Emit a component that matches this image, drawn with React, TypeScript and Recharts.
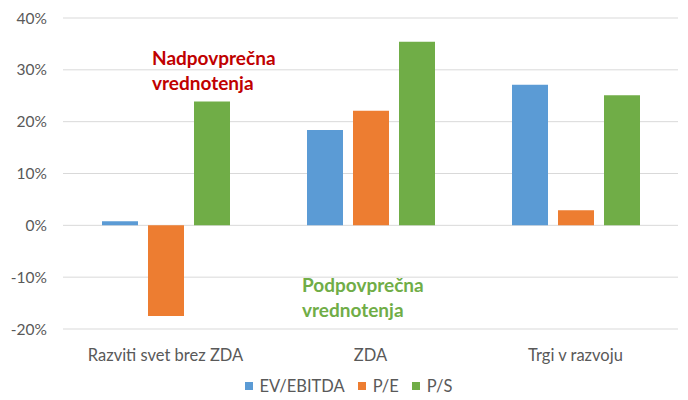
import React from 'react'
import {
  BarChart,
  Bar,
  XAxis,
  YAxis,
  CartesianGrid,
  Legend
} from 'recharts'

const categories = ['Razviti svet brez ZDA', 'ZDA', 'Trgi v razvoju']
const evEbitda = [0.8, 18.4, 27.1]
const pe = [-17.5, 22.1, 2.9]
const ps = [23.9, 35.4, 25.1]
const yTicks = [-20, -10, 0, 10, 20, 30, 40]

const data = categories.map((name, i) => ({
  name,
  ev: evEbitda[i],
  pe: pe[i],
  ps: ps[i]
}))

const FONT = 'Lato, "Open Sans", sans-serif'

function LegendBox(props: any) {
  const items = props.payload || []
  return (
    <div style={{ display: 'flex', justifyContent: 'center', alignItems: 'center', paddingTop: 6, paddingLeft: 32 }}>
      {items.map((it: any) => (
        <div key={it.value} style={{ display: 'flex', alignItems: 'center', marginRight: 13 }}>
          <span style={{ width: 8, height: 8, background: it.color, marginRight: 7, display: 'inline-block' }} />
          <span style={{ color: '#595959', fontSize: 16.5, fontFamily: FONT }}>{it.value}</span>
        </div>
      ))}
    </div>
  )
}

export default function App() {
  return (
    <div style={{ position: 'absolute', left: 0, top: 0, width: 688, height: 400, background: '#fff', fontFamily: FONT }}>
      <BarChart
        width={688}
        height={400}
        data={data}
        margin={{ top: 18, right: 10, left: 0, bottom: 0 }}
        barSize={36}
        barGap={10}
      >
        <CartesianGrid vertical={false} stroke="#d9d9d9" />
        <XAxis
          dataKey="name"
          axisLine={false}
          tickLine={false}
          height={41}
          tickMargin={14}
          tick={{ fill: '#595959', fontSize: 16.5, fontFamily: FONT }}
        />
        <YAxis
          domain={[-20, 40]}
          ticks={yTicks}
          interval={0}
          width={63}
          axisLine={false}
          tickLine={false}
          tickSize={0}
          tickMargin={16}
          tickFormatter={(v: number) => `${v}%`}
          tick={{ fill: '#595959', fontSize: 15.5, fontFamily: FONT }}
        />
        <Legend verticalAlign="bottom" height={30} content={LegendBox} />
        <Bar dataKey="ev" name="EV/EBITDA" fill="#5b9bd5" isAnimationActive={false} />
        <Bar dataKey="pe" name="P/E" fill="#ed7d31" isAnimationActive={false} />
        <Bar dataKey="ps" name="P/S" fill="#70ad47" isAnimationActive={false} />
      </BarChart>
      <div style={{ position: 'absolute', left: 152, top: 45, color: '#c00000', fontWeight: 700, fontSize: 19, lineHeight: '25px', pointerEvents: 'none' }}>
        Nadpovprečna<br />vrednotenja
      </div>
      <div style={{ position: 'absolute', left: 302, top: 272, color: '#70ad47', fontWeight: 700, fontSize: 19, lineHeight: '25px', pointerEvents: 'none' }}>
        Podpovprečna<br />vrednotenja
      </div>
    </div>
  )
}
